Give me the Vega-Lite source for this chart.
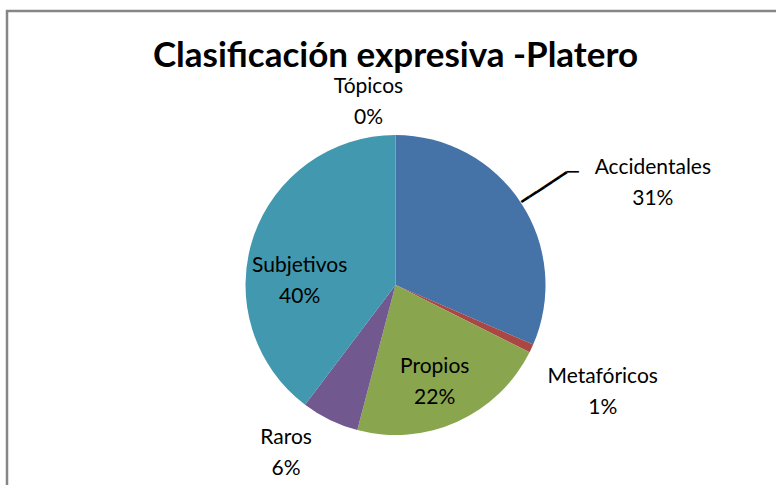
{
  "$schema": "https://vega.github.io/schema/vega-lite/v6.json",
  "autosize": "none",
  "width": 777,
  "height": 548,
  "padding": {"left": 7, "top": 11, "right": 0, "bottom": 0},
  "background": "white",
  "view": {"stroke": "#868686", "strokeWidth": 2.5, "fill": "white"},
  "config": {
    "text": {"font": "Lato", "fontSize": 21, "fill": "black", "lineBreak": "\n", "lineHeight": 31, "align": "center", "baseline": "middle"}
  },
  "title": {
    "text": "Clasificación expresiva -Platero",
    "font": "Lato",
    "fontSize": 35,
    "fontWeight": "bold",
    "color": "black",
    "anchor": "middle",
    "orient": "top",
    "offset": -63
  },
  "data": {
    "values": [
      {"category": "Accidentales", "value": 31.5, "ord": 1, "label": "Accidentales\n31%"},
      {"category": "Metafóricos", "value": 0.9, "ord": 2, "label": "Metafóricos\n1%"},
      {"category": "Propios", "value": 21.7, "ord": 3, "label": "Propios\n22%"},
      {"category": "Raros", "value": 6.2, "ord": 4, "label": "Raros\n6%"},
      {"category": "Subjetivos", "value": 39.7, "ord": 5, "label": "Subjetivos\n40%"},
      {"category": "Tópicos", "value": 0, "ord": 6, "label": "Tópicos\n0%"}
    ]
  },
  "encoding": {
    "theta": {"field": "value", "type": "quantitative", "stack": true},
    "order": {"field": "ord", "type": "quantitative"},
    "detail": {"field": "category", "type": "nominal"}
  },
  "layer": [
    {
      "mark": {"type": "arc", "outerRadius": 150},
      "encoding": {
        "color": {
          "field": "category",
          "type": "nominal",
          "legend": null,
          "scale": {
            "domain": ["Accidentales", "Metafóricos", "Propios", "Raros", "Subjetivos", "Tópicos"],
            "range": ["#4572A7", "#AA4643", "#89A54E", "#71588F", "#4198AF", "#DB843D"]
          }
        }
      }
    },
    {
      "mark": {"type": "text", "radius": 178, "font": "DejaVu Sans Mono", "fontSize": 15, "angle": -33.3, "lineBreak": ""},
      "encoding": {"text": {"condition": {"test": "datum.category === 'Accidentales'", "value": "━━━━━━"}, "value": ""}}
    },
    {
      "mark": {"type": "text", "radius": 205, "font": "DejaVu Sans Mono", "fontSize": 10, "align": "left", "lineBreak": ""},
      "encoding": {"text": {"condition": {"test": "datum.category === 'Accidentales'", "value": "━━"}, "value": ""}}
    },
    {
      "mark": {"type": "text", "radius": 205, "dx": 86, "dy": -4},
      "encoding": {"text": {"condition": {"test": "datum.category === 'Accidentales'", "field": "label"}, "value": ""}}
    },
    {
      "mark": {"type": "text", "radius": 200, "dx": 26, "dy": 7},
      "encoding": {"text": {"condition": {"test": "datum.category === 'Metafóricos'", "field": "label"}, "value": ""}}
    },
    {
      "mark": {"type": "text", "radius": 105, "dx": -4, "dy": -14},
      "encoding": {"text": {"condition": {"test": "datum.category === 'Propios'", "field": "label"}, "value": ""}}
    },
    {
      "mark": {"type": "text", "radius": 200, "dx": -22, "dy": -27},
      "encoding": {"text": {"condition": {"test": "datum.category === 'Raros'", "field": "label"}, "value": ""}}
    },
    {
      "mark": {"type": "text", "radius": 100, "dx": -1, "dy": 13},
      "encoding": {"text": {"condition": {"test": "datum.category === 'Subjetivos'", "field": "label"}, "value": ""}}
    },
    {
      "mark": {"type": "text", "radius": 200, "dx": -27, "dy": 2},
      "encoding": {"text": {"condition": {"test": "datum.category === 'Tópicos'", "field": "label"}, "value": ""}}
    }
  ]
}
